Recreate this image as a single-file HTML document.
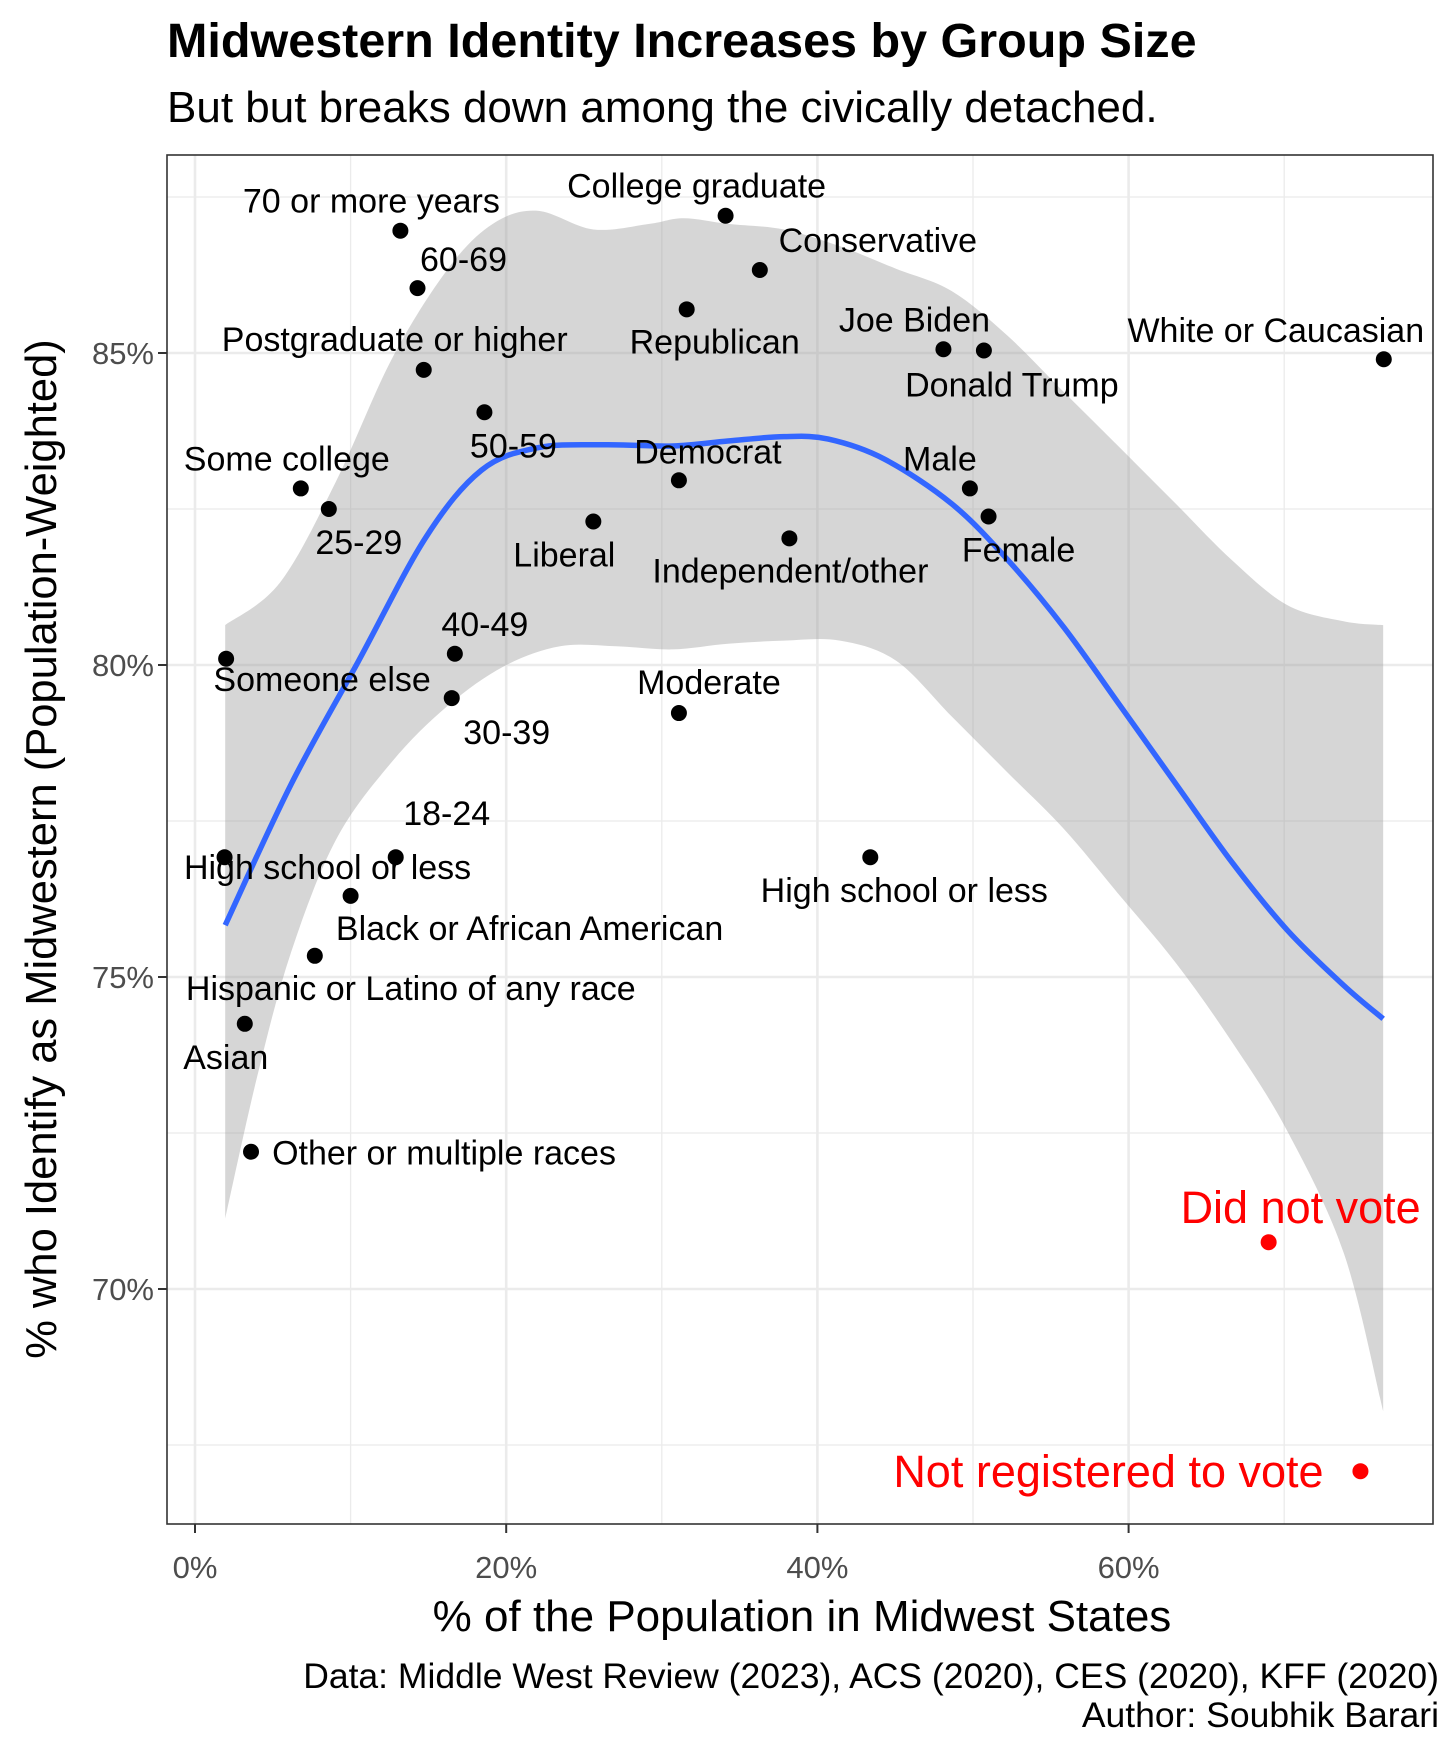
<!DOCTYPE html>
<html><head><meta charset="utf-8"><style>
body{margin:0;background:#fff}
svg text{font-family:"Liberation Sans",Arial,sans-serif}
</style></head><body>
<svg id="chart" width="1456" height="1747" viewBox="0 0 1456 1747" xmlns="http://www.w3.org/2000/svg">
<rect width="1456" height="1747" fill="#fff"/>
<text x="167" y="57" font-size="48.5" font-weight="bold">Midwestern Identity Increases by Group Size</text>
<text x="167" y="122" font-size="44">But but breaks down among the civically detached.</text>
<g id="grid"></g>
<g id="ribbon"></g>
<g id="marks"></g>
<g id="axes"></g>
<text x="802" y="1631" font-size="44" text-anchor="middle">% of the Population in Midwest States</text>
<text transform="translate(56,849) rotate(-90)" font-size="43.5" text-anchor="middle">% who Identify as Midwestern (Population-Weighted)</text>
<text x="1439" y="1688" font-size="35.5" text-anchor="end">Data: Middle West Review (2023), ACS (2020), CES (2020), KFF (2020)</text>
<text x="1439" y="1727" font-size="35.5" text-anchor="end">Author: Soubhik Barari</text>
</svg>
<script>
const labels=["70 or more years","60-69","College graduate","Conservative","Republican","Joe Biden","Donald Trump","White or Caucasian","Postgraduate or higher","50-59","Democrat","Some college","25-29","Liberal","Male","Female","Independent/other","Someone else","40-49","30-39","Moderate","18-24","High school or less","High school or less","Black or African American","Hispanic or Latino of any race","Asian","Other or multiple races","Did not vote","Not registered to vote"];
const popPct=[13.2,14.3,34.1,36.3,31.6,48.1,50.7,76.4,14.7,18.6,31.1,6.8,8.6,25.6,49.8,51.0,38.2,2.0,16.7,16.5,31.1,12.9,1.9,43.4,10.0,7.7,3.2,3.6,69.0,74.9];
const midPct=[86.96,86.04,87.2,86.33,85.7,85.06,85.04,84.9,84.73,84.05,82.96,82.83,82.5,82.3,82.83,82.38,82.03,80.1,80.18,79.47,79.23,76.92,76.92,76.92,76.3,75.34,74.25,72.2,70.75,67.08];
const highlight=[0,0,0,0,0,0,0,0,0,0,0,0,0,0,0,0,0,0,0,0,0,0,0,0,0,0,0,0,1,1];
const smoothX=[1.94,6.18,10.5,14.82,18.4,22.0,26.3,30.7,34.25,37.85,40.7,44.3,48.65,52.25,55.85,59.45,63.05,66.64,70.2,73.85,76.36];
const smoothY=[75.83,78.09,80.06,82.04,83.12,83.48,83.53,83.51,83.59,83.66,83.62,83.3,82.58,81.68,80.6,79.35,78.09,76.84,75.75,74.86,74.33];
const upperX=[1.94,5.46,9.06,12.66,16.26,19.14,22.0,25.6,29.2,31.4,34.25,37.85,41.45,45.05,48.65,52.25,55.85,59.45,63.05,66.64,70.2,73.85,76.36];
const upperY=[80.64,81.32,82.94,84.91,86.35,87.07,87.28,86.98,87.07,87.16,87.07,86.98,86.71,86.35,85.99,85.27,84.37,83.48,82.58,81.68,80.96,80.70,80.64];
const lowerX=[1.94,4.02,6.18,9.06,12.66,16.26,19.86,23.46,27.06,30.7,34.25,37.85,41.45,45.05,48.65,52.25,55.85,59.45,63.05,66.64,70.2,73.85,76.36];
const lowerY=[71.13,73.43,75.4,77.2,78.45,79.35,79.98,80.3,80.3,80.25,80.34,80.39,80.39,80.07,79.17,78.27,77.37,76.3,75.22,73.96,72.53,70.56,68.04];
const xTicks=[0,20,40,60];
const xTickLabels=["0%","20%","40%","60%"];
const yTicks=[70,75,80,85];
const yTickLabels=["70%","75%","80%","85%"];
// label offsets (px) relative to point
const offX=[-29,46,-29,118,28,-29,28,-108,-29,29,29,-14,30,-29,-30,30,1,96,30,55,30,51,103,34,179,96,-19,193,32,-252];
const offY=[-30,-29,-30,-30,32,-30,34,-29,-31,33,-29,-30,33,33,-30,33,32,20,-30,34,-31,-44,10,33,32,32,33,1,-34,1];

const PL=167,PT=155,PR=1433,PB=1524;
const xs=v=>195+v*15.56;
const ys=v=>665-(v-80)*62.4;
const NS="http://www.w3.org/2000/svg";
function mk(t,a,p){const e=document.createElementNS(NS,t);for(const k in a)e.setAttribute(k,a[k]);p.appendChild(e);return e;}
function curve(P,start){let d=start?'M'+P[0][0]+','+P[0][1]:' L'+P[0][0]+','+P[0][1];
for(let i=0;i<P.length-1;i++){const p0=P[Math.max(i-1,0)],p1=P[i],p2=P[i+1],p3=P[Math.min(i+2,P.length-1)];
const c1=[p1[0]+(p2[0]-p0[0])/6,p1[1]+(p2[1]-p0[1])/6],c2=[p2[0]-(p3[0]-p1[0])/6,p2[1]-(p3[1]-p1[1])/6];
d+=' C'+c1.join(',')+' '+c2.join(',')+' '+p2.join(',');}return d;}
const grid=document.getElementById('grid');
mk('rect',{x:PL,y:PT,width:PR-PL,height:PB-PT,fill:'#fff'},grid);
for(let v=-10;v<=80;v+=10){const X=xs(v);if(X<PL||X>PR)continue;const major=v%20===0;
const l=mk('line',{x1:X,x2:X,y1:PT,y2:PB,stroke:'#ebebeb','stroke-width':major?2.6:1.3},grid);

}
for(let v=65;v<=90;v+=2.5){const Y=ys(v);if(Y<PT||Y>PB)continue;const major=v%5===0;
const l=mk('line',{x1:PL,x2:PR,y1:Y,y2:Y,stroke:'#ebebeb','stroke-width':major?2.6:1.3},grid);

}
const rib=document.getElementById('ribbon');
const up=upperX.map((x,i)=>[xs(x),ys(upperY[i])]);
const lo=lowerX.map((x,i)=>[xs(x),ys(lowerY[i])]).reverse();
const rp=mk('path',{d:curve(up,true)+curve(lo,false)+'Z',fill:'#999','fill-opacity':0.4},rib);


const sp=mk('path',{d:curve(smoothX.map((x,i)=>[xs(x),ys(smoothY[i])]),true),fill:'none',stroke:'#3366FF','stroke-width':5.5,'stroke-linejoin':'round'},rib);


const marks=document.getElementById('marks');
labels.forEach((lab,i)=>{const X=xs(popPct[i]),Y=ys(midPct[i]);const red=highlight[i];
const c=mk('circle',{cx:X,cy:Y,r:8,fill:red?'#ff0000':'#000'},marks);


const t=mk('text',{x:X+offX[i],y:Y+offY[i]+(red?15:12),'font-size':red?45:34,'text-anchor':'middle',fill:red?'#ff0000':'#000'},marks);
t.textContent=lab;

});
const ax=document.getElementById('axes');
const b=mk('rect',{x:PL,y:PT,width:PR-PL,height:PB-PT,fill:'none',stroke:'#333','stroke-width':1.6},ax);


xTicks.forEach((v,i)=>{const X=xs(v);mk('line',{x1:X,x2:X,y1:PB,y2:PB+9,stroke:'#333','stroke-width':2},ax);
const t=mk('text',{x:X,y:1578,'font-size':31,'text-anchor':'middle',fill:'#4d4d4d'},ax);t.textContent=xTickLabels[i];

});
yTicks.forEach((v,i)=>{const Y=ys(v);mk('line',{x1:PL-9,x2:PL,y1:Y,y2:Y,stroke:'#333','stroke-width':2},ax);
const t=mk('text',{x:PL-13,y:Y+11,'font-size':31,'text-anchor':'end',fill:'#4d4d4d'},ax);t.textContent=yTickLabels[i];

});
</script>
</body></html>
